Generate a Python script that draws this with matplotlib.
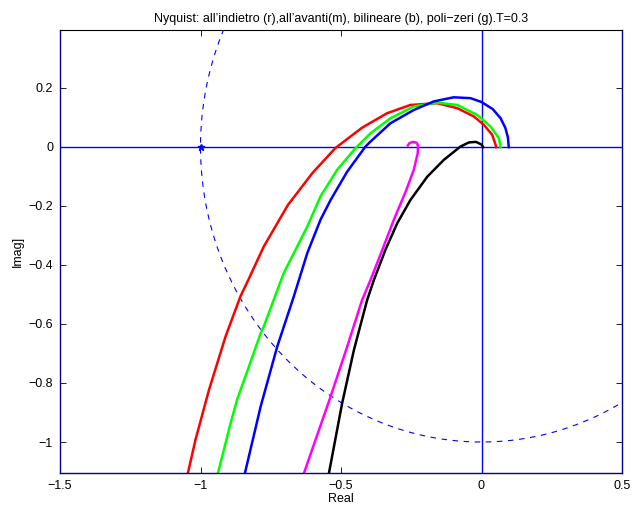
import numpy as np
import matplotlib
matplotlib.use("Agg")
import matplotlib.pyplot as plt

plt.rcParams["font.family"] = ["Liberation Sans", "DejaVu Sans"]

# Nyquist curves (real, imag)
red_re = [-1.045, -1.018, -0.970, -0.911, -0.858, -0.830, -0.775, -0.689, -0.602, -0.520,
          -0.425, -0.336, -0.253, -0.158, -0.086, -0.027, 0.008, 0.038, 0.053]
red_im = [-1.106, -0.993, -0.824, -0.643, -0.507, -0.451, -0.338, -0.197, -0.089, -0.004,
          0.065, 0.114, 0.142, 0.148, 0.131, 0.103, 0.075, 0.041, -0.001]

green_re = [-0.938, -0.893, -0.869, -0.836, -0.786, -0.775, -0.713, -0.704, -0.656, -0.620,
            -0.573, -0.514, -0.448, -0.395, -0.324, -0.241, -0.158, -0.086, -0.015, 0.032,
            0.062, 0.068]
green_im = [-1.106, -0.937, -0.854, -0.767, -0.632, -0.609, -0.451, -0.428, -0.338, -0.270,
            -0.168, -0.078, -0.004, 0.046, 0.097, 0.137, 0.150, 0.142, 0.108, 0.069,
            0.029, -0.001]

blue_re = [-0.842, -0.786, -0.727, -0.668, -0.620, -0.573, -0.537, -0.478, -0.413, -0.395,
           -0.324, -0.241, -0.170, -0.099, -0.039, 0.000, 0.040, 0.068, 0.085, 0.094, 0.097]
blue_im = [-1.106, -0.880, -0.677, -0.507, -0.360, -0.247, -0.180, -0.084, 0.001, 0.018,
           0.080, 0.125, 0.154, 0.168, 0.165, 0.152, 0.128, 0.097, 0.064, 0.032, -0.001]

mag_re = [-0.632, -0.537, -0.478, -0.425, -0.395, -0.353, -0.312, -0.270, -0.241, -0.227,
          -0.226, -0.231, -0.244, -0.256, -0.262]
mag_im = [-1.106, -0.846, -0.677, -0.519, -0.451, -0.349, -0.247, -0.152, -0.078, -0.021,
          0.005, 0.014, 0.017, 0.013, 0.005]

black_re = [-0.543, -0.496, -0.454, -0.407, -0.383, -0.342, -0.300, -0.253, -0.193, -0.134,
            -0.075, -0.045, -0.020, 0.000, 0.006]
black_im = [-1.106, -0.869, -0.688, -0.519, -0.451, -0.349, -0.259, -0.180, -0.101, -0.044,
            0.001, 0.015, 0.017, 0.008, -0.001]

xticks = [-1.5, -1, -0.5, 0, 0.5]
yticks = [-1, -0.8, -0.6, -0.4, -0.2, 0, 0.2]


def main():
    fig = plt.figure(figsize=(6.44, 5.09), dpi=100)
    ax = fig.add_axes([60 / 644, 1 - 473 / 509, 562 / 644, 443 / 509])

    # unit circle and axes lines
    th = np.linspace(0, 2 * np.pi, 400)
    ax.plot(np.cos(th), np.sin(th), "--", color="#0000ff", linewidth=0.8, dashes=(5, 5))
    ax.axhline(0, color="#0000ff", linewidth=1.0)
    ax.axvline(0, color="#0000ff", linewidth=1.0)
    ax.plot([-1], [0], "*", color="#0000ff", markersize=5)

    lw = 1.8
    ax.plot(red_re, red_im, color="#ff0000", linewidth=lw)
    ax.plot(green_re, green_im, color="#00ff00", linewidth=lw)
    ax.plot(blue_re, blue_im, color="#0000ff", linewidth=lw)
    ax.plot(mag_re, mag_im, color="#ff00ff", linewidth=lw)
    ax.plot(black_re, black_im, color="#000000", linewidth=lw)

    ax.set_xlim(-1.5, 0.5)
    ax.set_ylim(-1.105, 0.396)
    ax.set_xticks(xticks)
    ax.set_xticklabels(["\u22121.5", "\u22121", "\u22120.5", "0", "0.5"])
    ax.set_yticks(yticks)
    ax.set_yticklabels(["\u22121", "\u22120.8", "\u22120.6", "\u22120.4", "\u22120.2", "0", "0.2"])
    ax.tick_params(direction="in", top=True, right=True, length=4, width=0.6,
                   labelsize=9, pad=5)

    for side in ["left", "right", "bottom"]:
        ax.spines[side].set_color("#00008b")
        ax.spines[side].set_linewidth(1.0)
    ax.spines["top"].set_color("#000000")
    ax.spines["top"].set_linewidth(0.8)

    ax.set_xlabel("Real", fontsize=9, labelpad=1)
    ax.set_ylabel("Imag]", fontsize=9, labelpad=3)
    ax.set_title("Nyquist: all\u2019indietro (r),all\u2019avanti(m), bilineare (b), poli\u2212zeri (g).T=0.3",
                 fontsize=9, pad=6)

    fig.savefig("out.png", dpi=100)
    plt.close(fig)


if __name__ == "__main__":
    main()
